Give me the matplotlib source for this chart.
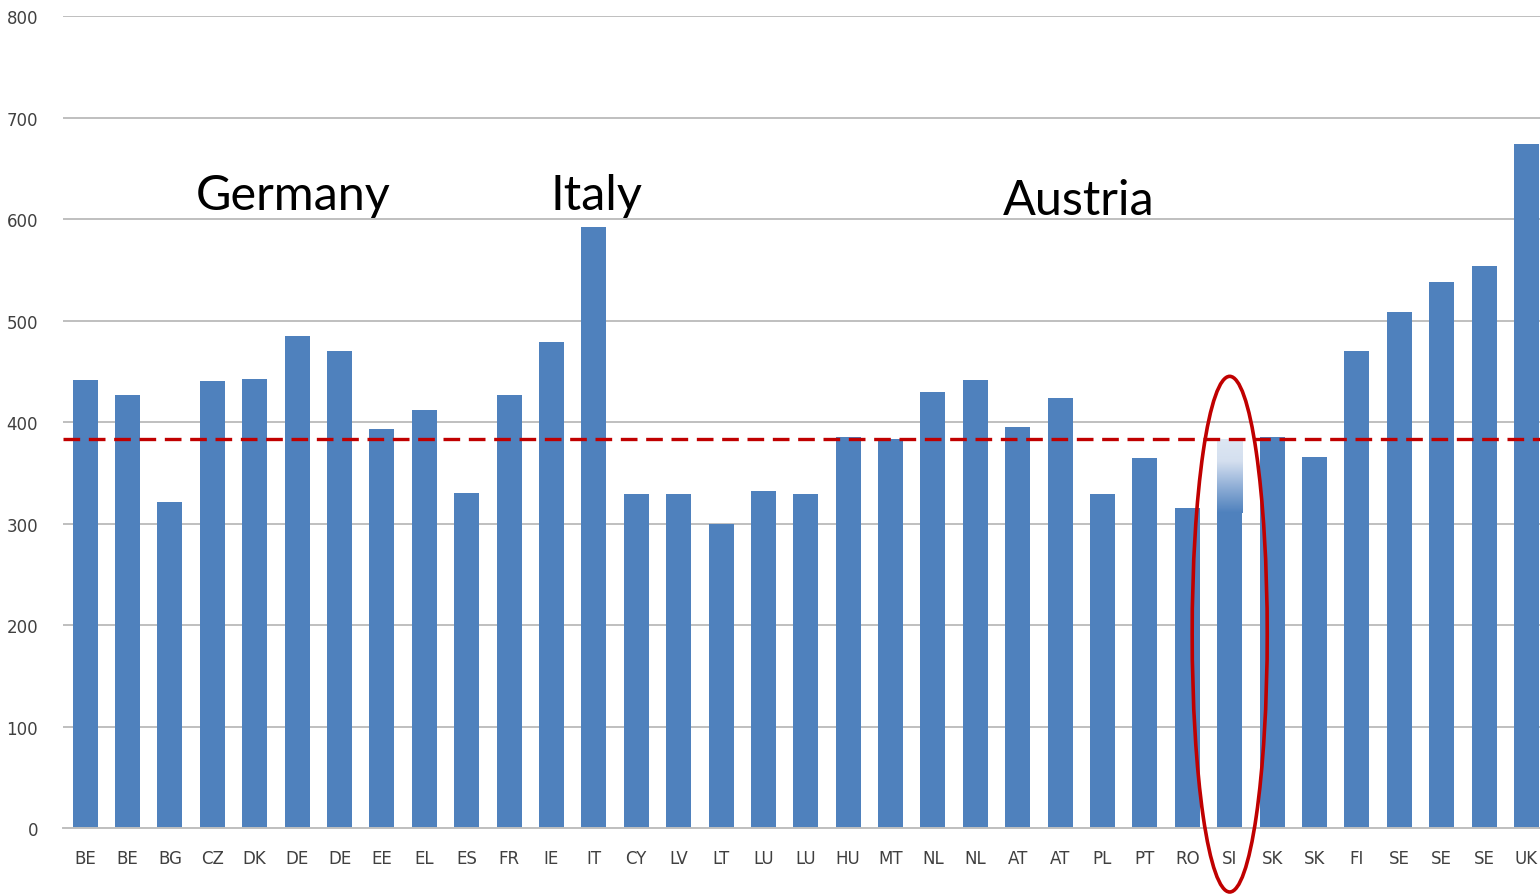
import numpy as np
import matplotlib
matplotlib.use('Agg')
import matplotlib.pyplot as plt
from matplotlib.patches import Ellipse
from matplotlib.colors import LinearSegmentedColormap

countries = ['BE', 'BE', 'BG', 'CZ', 'DK', 'DE', 'DE', 'EE', 'EL', 'ES', 'FR', 'IE', 'IT',
             'CY', 'LV', 'LT', 'LU', 'LU', 'HU', 'MT', 'NL', 'NL', 'AT', 'AT', 'PL', 'PT',
             'RO', 'SI', 'SK', 'SK', 'FI', 'SE', 'SE', 'SE', 'UK']
values = [441, 427, 321, 440, 442, 485, 470, 393, 412, 330, 427, 479, 592,
          329, 329, 300, 332, 329, 385, 383, 430, 441, 395, 424, 329, 365,
          315, 382, 385, 366, 470, 508, 538, 554, 674]
reference = 383
highlight = 'SI'
labels = [('Germany', 2.62, 610), ('Italy', 10.97, 610), ('Austria', 21.65, 605)]

blue = '#4F81BD'
fig = plt.figure(figsize=(15.4, 8.95), dpi=100)
ax = fig.add_axes([0.041, 0.0737, 0.959, 0.9073])

x = np.arange(len(countries))
hi = countries.index(highlight)
width = 0.59

bars = ax.bar(x, values, width=width, color=blue, zorder=2)

# the highlighted bar fades out towards the top
bars[hi].set_visible(False)
solid_top = values[hi] - 72
ax.bar(x[hi], solid_top, width=width, color=blue, zorder=2)
cmap = LinearSegmentedColormap.from_list(
    'fade', [(0, blue), (0.35, '#8FAED6'), (0.7, '#D4DFEF'), (1, '#DDE7F3')])
grad = np.linspace(0, 1, 200).reshape(-1, 1)
ax.imshow(grad, cmap=cmap, aspect='auto', origin='lower', zorder=2,
          extent=[x[hi] - width / 2, x[hi] + width / 2, solid_top, values[hi]])

ax.axhline(reference, color='#C00000', lw=2.4, ls=(0, (5, 2.6)), zorder=3)

ell = Ellipse((x[hi], 191), 1.77, 508, fill=False, edgecolor='#C00000', lw=2.6,
              zorder=4, clip_on=False)
ax.add_patch(ell)

for txt, tx, ty in labels:
    ax.text(tx, ty, txt, fontsize=35, family='Lato', va='baseline', ha='left', color='black')

ax.set_xlim(-0.52, 34.32)
ax.set_ylim(0, 800)
ax.set_yticks(range(0, 801, 100))
ax.set_xticks(x)
ax.set_xticklabels(countries)
ax.grid(axis='y', color='#BFBFBF', lw=1.4, zorder=0)
ax.set_axisbelow(True)
for s in ['top', 'right', 'left']:
    ax.spines[s].set_visible(False)
ax.spines['bottom'].set_color('#BFBFBF')
ax.spines['bottom'].set_linewidth(1.4)
ax.tick_params(axis='both', length=0, labelsize=12, labelcolor='#404040')
ax.tick_params(axis='x', pad=15)
ax.tick_params(axis='y', pad=18)

fig.savefig('out.png', dpi=100)
